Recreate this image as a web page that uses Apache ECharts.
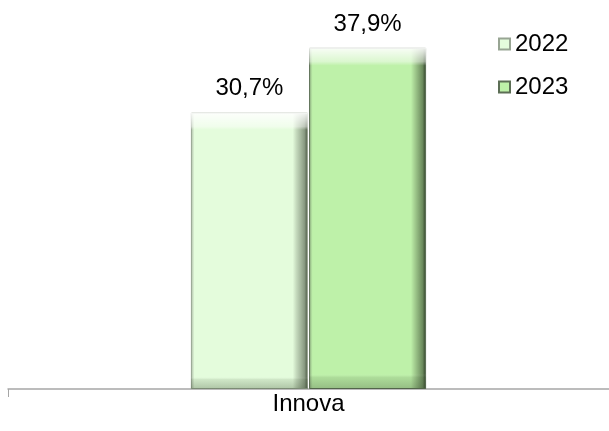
<!DOCTYPE html>
<html>
<head>
<meta charset="utf-8">
<script src="https://cdn.jsdelivr.net/npm/echarts@6/dist/echarts.min.js"></script>
<style>
html,body{margin:0;padding:0;background:#fff;}
#chart{width:609px;height:431px;}
</style>
</head>
<body>
<div id="chart"></div>
<script>
var categories = ['Innova'];
var seriesNames = ['2022', '2023'];
var values2022 = [30.7];
var values2023 = [37.9];

var FONT = "'Liberation Sans', Arial, sans-serif";

function hGrad(edgeL, mid, r1, r2, r3) {
  return new echarts.graphic.LinearGradient(0, 0, 1, 0, [
    {offset: 0, color: edgeL},
    {offset: 0.03, color: mid},
    {offset: 0.87, color: mid},
    {offset: 0.9, color: r1},
    {offset: 0.97, color: r2},
    {offset: 1, color: r3}
  ]);
}
function vGrad(top) {
  return new echarts.graphic.LinearGradient(0, 0, 0, 1, [
    {offset: 0, color: 'rgba(255,255,255,0.9)'},
    {offset: top, color: 'rgba(255,255,255,0.45)'},
    {offset: top + 0.012, color: 'rgba(255,255,255,0)'},
    {offset: 0.955, color: 'rgba(255,255,255,0)'},
    {offset: 0.965, color: 'rgba(60,80,50,0.12)'},
    {offset: 1, color: 'rgba(60,80,50,0.32)'}
  ]);
}
function fmt(p) { return String(p.value).replace('.', ',') + '%'; }

var colors = [
  hGrad('#a9b8a3', '#e4fcdc', '#c6dbbe', '#8a9b83', '#46543f'),
  hGrad('#8fae82', '#bef1a9', '#a6d192', '#6b8a5d', '#2f3f28')
];

var chart = echarts.init(document.getElementById('chart'), null, {renderer: 'canvas'});
var labelCfg = {show: true, position: 'top', distance: 12, formatter: fmt, color: '#000', fontSize: 24, fontFamily: FONT};
chart.setOption({
  animation: false,
  textStyle: {fontFamily: FONT},
  legend: {
    data: seriesNames,
    orient: 'vertical',
    left: 493, top: 27,
    itemWidth: 11, itemHeight: 11, itemGap: 19,
    icon: 'rect',
    textStyle: {fontSize: 24, color: '#000', fontFamily: FONT}
  },
  grid: {left: 8, right: 0, top: 29, bottom: 42, containLabel: false},
  xAxis: [{
    type: 'category', data: categories,
    axisLine: {lineStyle: {color: '#a6a6a6', width: 1.5}},
    axisTick: {show: true, length: 8, lineStyle: {color: '#a6a6a6'}},
    axisLabel: {fontSize: 24, color: '#000', margin: 3, fontFamily: FONT}
  }, {
    type: 'category', data: categories, show: false
  }],
  yAxis: {type: 'value', min: 0, max: 40, show: false, splitLine: {show: false}},
  series: [
    {name: seriesNames[0], type: 'bar', data: values2022, barWidth: 117, barGap: '1%',
     itemStyle: {color: colors[0], borderColor: '#98a593', borderWidth: 1}, label: labelCfg},
    {name: seriesNames[1], type: 'bar', data: values2023, barWidth: 117, barGap: '1%',
     itemStyle: {color: colors[1], borderColor: '#5c6e55', borderWidth: 1}, label: labelCfg},
    {name: 'o1', type: 'bar', xAxisIndex: 1, data: values2022, barWidth: 117, barGap: '1%',
     itemStyle: {color: vGrad(0.05)}, silent: true},
    {name: 'o2', type: 'bar', xAxisIndex: 1, data: values2023, barWidth: 117, barGap: '1%',
     itemStyle: {color: vGrad(0.04)}, silent: true}
  ]
});
</script>
</body>
</html>
